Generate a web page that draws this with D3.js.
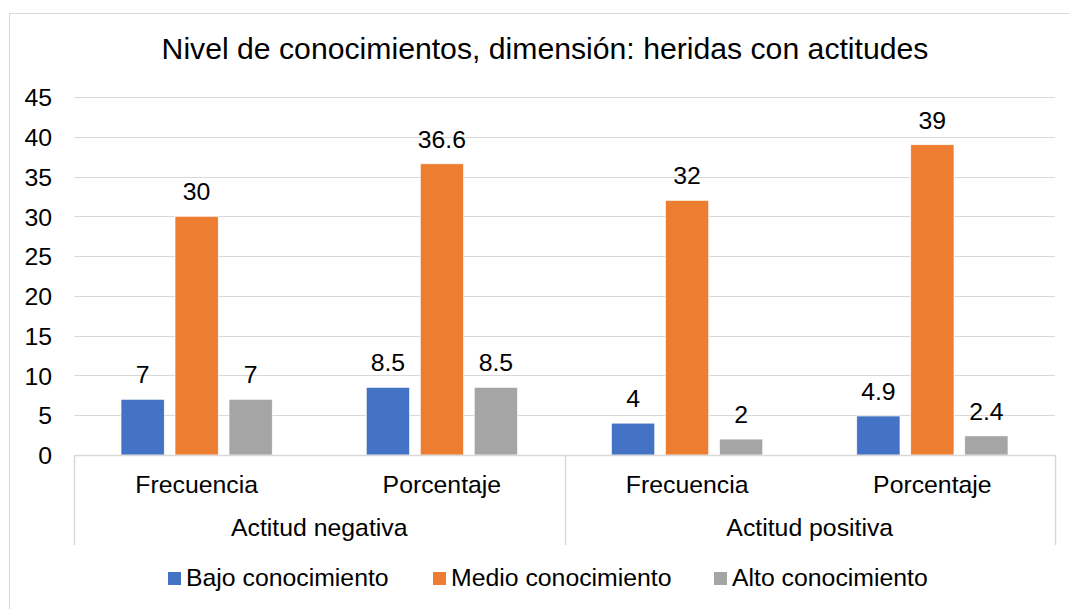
<!DOCTYPE html>
<html>
<head>
<meta charset="utf-8">
<script src="https://cdn.jsdelivr.net/npm/d3@7"></script>
<style>
  html, body { margin: 0; padding: 0; background: #fff; }
  svg { display: block; font-family: "Liberation Sans", Arial, sans-serif; }
</style>
</head>
<body>
<svg id="chart" width="1069" height="609"></svg>
<script>
const title = "Nivel de conocimientos, dimensión: heridas con actitudes";
const groups = ["Actitud negativa", "Actitud positiva"];
const subCategories = ["Frecuencia", "Porcentaje"];
const seriesNames = ["Bajo conocimiento", "Medio conocimiento", "Alto conocimiento"];
const seriesColors = ["#4472C4", "#ED7D31", "#A5A5A5"];
// values per category in order: negativa-Frecuencia, negativa-Porcentaje, positiva-Frecuencia, positiva-Porcentaje
const bajo  = [7, 8.5, 4, 4.9];
const medio = [30, 36.6, 32, 39];
const alto  = [7, 8.5, 2, 2.4];
const yTicks = [0, 5, 10, 15, 20, 25, 30, 35, 40, 45];

(function () {
const seriesValues = [bajo, medio, alto];
const categories = [];
groups.forEach(g => subCategories.forEach(s => categories.push(g + "|" + s)));

const svg = d3.select("#chart");
const plotLeft = 74, plotRight = 1055, plotTop = 97, plotBottom = 455;
const fs = 24.8;

// chart border
svg.append("rect").attr("x", 9.5).attr("y", 13.5).attr("width", 1080).attr("height", 620)
  .attr("fill", "#fff").attr("stroke", "#d9d9d9").attr("stroke-width", 1);

// title
svg.append("text").attr("x", 545).attr("y", 59).attr("text-anchor", "middle")
  .attr("font-size", 30.2).attr("fill", "#000").text(title);

const y = d3.scaleLinear().domain([0, 45]).range([plotBottom, plotTop]);
const x0 = d3.scaleBand().domain(categories).range([plotLeft, plotRight]).padding(0);
const x1 = d3.scaleBand().domain(seriesNames).range([0, x0.bandwidth()])
  .paddingInner(0.2).paddingOuter(0.871);
const xg = d3.scaleBand().domain(groups).range([plotLeft, plotRight]).padding(0);

// gridlines
svg.append("g").selectAll("line").data(yTicks.filter(t => t > 0)).join("line")
  .attr("x1", plotLeft).attr("x2", plotRight)
  .attr("y1", d => Math.round(y(d)) + 0.5).attr("y2", d => Math.round(y(d)) + 0.5)
  .attr("stroke", "#d9d9d9").attr("stroke-width", 1);

// y axis labels
const yAxis = d3.axisLeft(y).tickValues(yTicks).tickSize(0).tickPadding(0);
const ya = svg.append("g").attr("transform", `translate(52,0)`).call(yAxis);
ya.select(".domain").remove();
ya.selectAll("text").attr("font-size", fs).attr("fill", "#000")
  .attr("font-family", "Liberation Sans, Arial, sans-serif").attr("dy", "0.35em");

// bars
const data = [];
categories.forEach((c, ci) => seriesNames.forEach((s, si) => data.push({c, s, si, v: seriesValues[si][ci]})));

svg.append("g").selectAll("rect").data(data).join("rect")
  .attr("x", d => x0(d.c) + x1(d.s))
  .attr("width", x1.bandwidth())
  .attr("y", d => y(d.v))
  .attr("height", d => y(0) - y(d.v))
  .attr("fill", d => seriesColors[d.si])
  .attr("stroke", "#fff").attr("stroke-width", 0.6);

// data labels
svg.append("g").selectAll("text").data(data).join("text")
  .attr("x", d => x0(d.c) + x1(d.s) + x1.bandwidth() / 2)
  .attr("y", d => y(d.v) - 16)
  .attr("text-anchor", "middle").attr("font-size", fs).attr("fill", "#000")
  .text(d => String(d.v));

// category axis
svg.append("line").attr("x1", plotLeft).attr("x2", plotRight).attr("y1", plotBottom + 0.5).attr("y2", plotBottom + 0.5)
  .attr("stroke", "#d9d9d9").attr("stroke-width", 1.5);
const seps = [plotLeft, xg(groups[1]), plotRight];
svg.append("g").selectAll("line").data(seps).join("line")
  .attr("x1", d => Math.round(d) + 0.5).attr("x2", d => Math.round(d) + 0.5)
  .attr("y1", plotBottom).attr("y2", 545)
  .attr("stroke", "#d9d9d9").attr("stroke-width", 1.5);

svg.append("g").selectAll("text").data(categories).join("text")
  .attr("x", d => x0(d) + x0.bandwidth() / 2).attr("y", 493)
  .attr("text-anchor", "middle").attr("font-size", fs).attr("fill", "#000")
  .text(d => d.split("|")[1]);

svg.append("g").selectAll("text").data(groups).join("text")
  .attr("x", d => xg(d) + xg.bandwidth() / 2).attr("y", 536)
  .attr("text-anchor", "middle").attr("font-size", fs).attr("fill", "#000")
  .text(d => d);

// legend
const legendX = [168, 433, 714];
const lg = svg.append("g").selectAll("g").data(seriesNames).join("g")
  .attr("transform", (d, i) => `translate(${legendX[i]},0)`);
lg.append("rect").attr("x", 0).attr("y", 572).attr("width", 13).attr("height", 13)
  .attr("fill", (d, i) => seriesColors[i]);
lg.append("text").attr("x", 18).attr("y", 585.5).attr("font-size", fs).attr("fill", "#000")
  .text(d => d);
})();
</script>
</body>
</html>
